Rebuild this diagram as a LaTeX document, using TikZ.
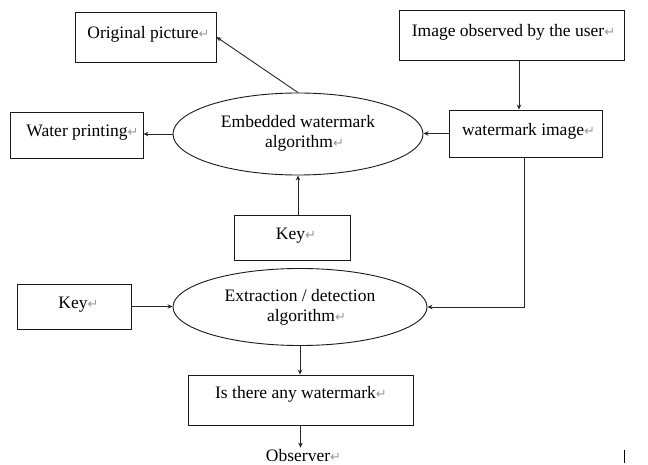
\documentclass[tikz,border=0pt]{standalone}
\usepackage{fontspec}
\setmainfont{Liberation Serif}
\newfontfamily\retfont{DejaVu Sans}
\usetikzlibrary{arrows.meta,shapes.geometric}
\newcommand{\ret}{{\retfont\fontsize{13}{13}\selectfont\color{black!40}↵}}
\begin{document}
\begin{tikzpicture}[x=1pt,y=-1pt,
  every node/.style={font=\fontsize{17.5}{19}\selectfont, inner sep=0pt},
  box/.style={draw=black!90, line width=0.9pt, rectangle, text height=10pt, text depth=6pt},
  oval/.style={draw=black!90, line width=0.9pt, ellipse, inner sep=0pt},
  ovaltext/.style={align=center, font=\fontsize{17.5}{20.5}\selectfont},
  arr/.style={draw=black!85, line width=0.9pt, -{Stealth[length=5pt,width=4.5pt]}}]
\useasboundingbox (0,0) rectangle (648,465);

\node[box, minimum width=141pt, minimum height=50pt] (orig) at (145.5,37) {\hspace*{6pt}Original picture\ret};
\node[box, minimum width=225pt, minimum height=50pt] (user) at (511.5,35) {\hspace*{4pt}Image observed by the user\ret};
\node[box, minimum width=133pt, minimum height=46pt] (water) at (76.5,135) {\hspace*{12pt}Water printing\ret};
\node[box, minimum width=153pt, minimum height=47pt] (wmimg) at (525.5,133.5) {\hspace*{6pt}watermark image\ret};
\node[box, minimum width=116pt, minimum height=45pt] (key1) at (292.5,237.5) {\hspace*{7pt}Key\ret};
\node[box, minimum width=114pt, minimum height=45pt] (key2) at (74,306.5) {\hspace*{9pt}Key\ret};
\node[box, minimum width=225pt, minimum height=50pt, text height=6pt, text depth=10pt] (isthere) at (300.5,400) {\hspace*{1pt}Is there any watermark\ret};

\node[oval, minimum width=250pt, minimum height=82pt] (emb) at (298,134) {};
\node[ovaltext] (embtxt) at (298,133.5) {Embedded watermark\\\hspace*{13pt}algorithm\ret};
\node[oval, minimum width=254pt, minimum height=77pt] (ext) at (300,307) {};
\node[ovaltext] (exttxt) at (300,307.5) {Extraction / detection\\\hspace*{13pt}algorithm\ret};

\node[anchor=base, inner sep=1pt] (obs) at (303.5,461) {Observer\ret};

\draw[arr] (emb.north) -- (orig.east);
\draw[arr] (emb.west) -- (emb.west -| water.east);
\draw[arr] ([xshift=7.5pt]user.south) -- ([xshift=7.5pt]user.south |- wmimg.north);
\draw[arr] (wmimg.west) -- (wmimg.west -| emb.east);
\draw[arr] (key1.north -| emb.south) -- (emb.south);
\draw[arr] (key2.east) -- (key2.east -| ext.west);
\draw[arr] ([xshift=-1.5pt]wmimg.south) |- (ext.east);
\draw[arr] (ext.south) -- (ext.south |- isthere.north);
\draw[arr] (isthere.south) -- (isthere.south |- obs.north);

\draw[line width=0.9pt] (624.5,450) -- (624.5,463);
\end{tikzpicture}
\end{document}
